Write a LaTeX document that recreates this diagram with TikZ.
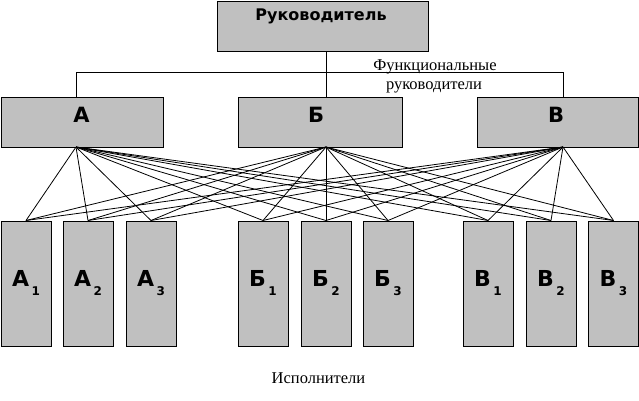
\documentclass[tikz,border=0pt]{standalone}
\usepackage{fontspec}
\setmainfont{Liberation Serif}
\newfontfamily\boxfont{DejaVu Sans}
\tikzset{
  box/.style={draw=black, line width=1pt, fill=boxgray, inner sep=0pt, minimum width=#1},
  box/.default=50pt,
  link/.style={draw=black, line width=0.8pt},
  bigletter/.style={font=\boxfont\bfseries\fontsize{21}{21}\selectfont, inner sep=0pt},
  smalllabel/.style={font=\fontsize{16.5}{18}\selectfont, inner sep=0pt, align=center}
}
\definecolor{boxgray}{HTML}{C0C0C0}
\newcommand{\subidx}[1]{\hspace{2.5pt}\raisebox{-9pt}{\boxfont\fontsize{12}{12}\selectfont #1}}
\begin{document}
\begin{tikzpicture}[x=1pt,y=-1pt]
\useasboundingbox (0,0) rectangle (639,400);
% top box
\node[box=211pt, minimum height=50pt] (top) at (322.5,26) {};
\node[font=\boxfont\bfseries\fontsize{16}{16}\selectfont, inner sep=0pt] (toplbl) at (321,16.5) {Руководитель};
% mid boxes
\node[box=162pt, minimum height=50pt] (A) at (82,122) {};
\node[box=164pt, minimum height=50pt] (B) at (320,122) {};
\node[box=161pt, minimum height=50pt] (V) at (557.5,122) {};
\node[bigletter] (Al) at (81.5,115) {А};
\node[bigletter] (Bl) at (316,115) {Б};
\node[bigletter] (Vl) at (556,115) {В};
% connection points
\coordinate (pA) at (76,147);
\coordinate (pB) at (326,147);
\coordinate (pV) at (563,147);
\coordinate (bar) at (0,72.5);
% bottom boxes
\foreach \n/\x/\t/\i in {a1/26/А/1, a2/88/А/2, a3/151/А/3, b1/263/Б/1, b2/326/Б/2, b3/388/Б/3, v1/488/В/1, v2/551/В/2, v3/613.5/В/3}{
  \node[box=50pt, minimum height=125pt] (\n) at (\x,283.5) {};
  \node[font=\boxfont\bfseries\fontsize{22}{22}\selectfont, inner sep=0pt, anchor=base] (\n l) at (\x,286) {\t\subidx{\i}};
}
% hierarchy connectors
\draw[link] (top.south -| pB) -- (B.north -| pB);
\draw[link] (A.north -| pA) -- (bar -| pA) -- (bar -| pV) -- (V.north -| pV);
% full bipartite links
\foreach \p in {pA,pB,pV}{
  \foreach \q in {a1,a2,a3,b1,b2,b3,v1,v2,v3}{
    \draw[link] (\p) -- (\q.north);
  }
}
% labels
\node[smalllabel, anchor=base] (func1) at (435,70.5) {Функциональные};
\node[smalllabel, anchor=base] (func2) at (434,89) {руководители};
\node[smalllabel, anchor=base] (ispol) at (318.5,383) {Исполнители};
\end{tikzpicture}
\end{document}
